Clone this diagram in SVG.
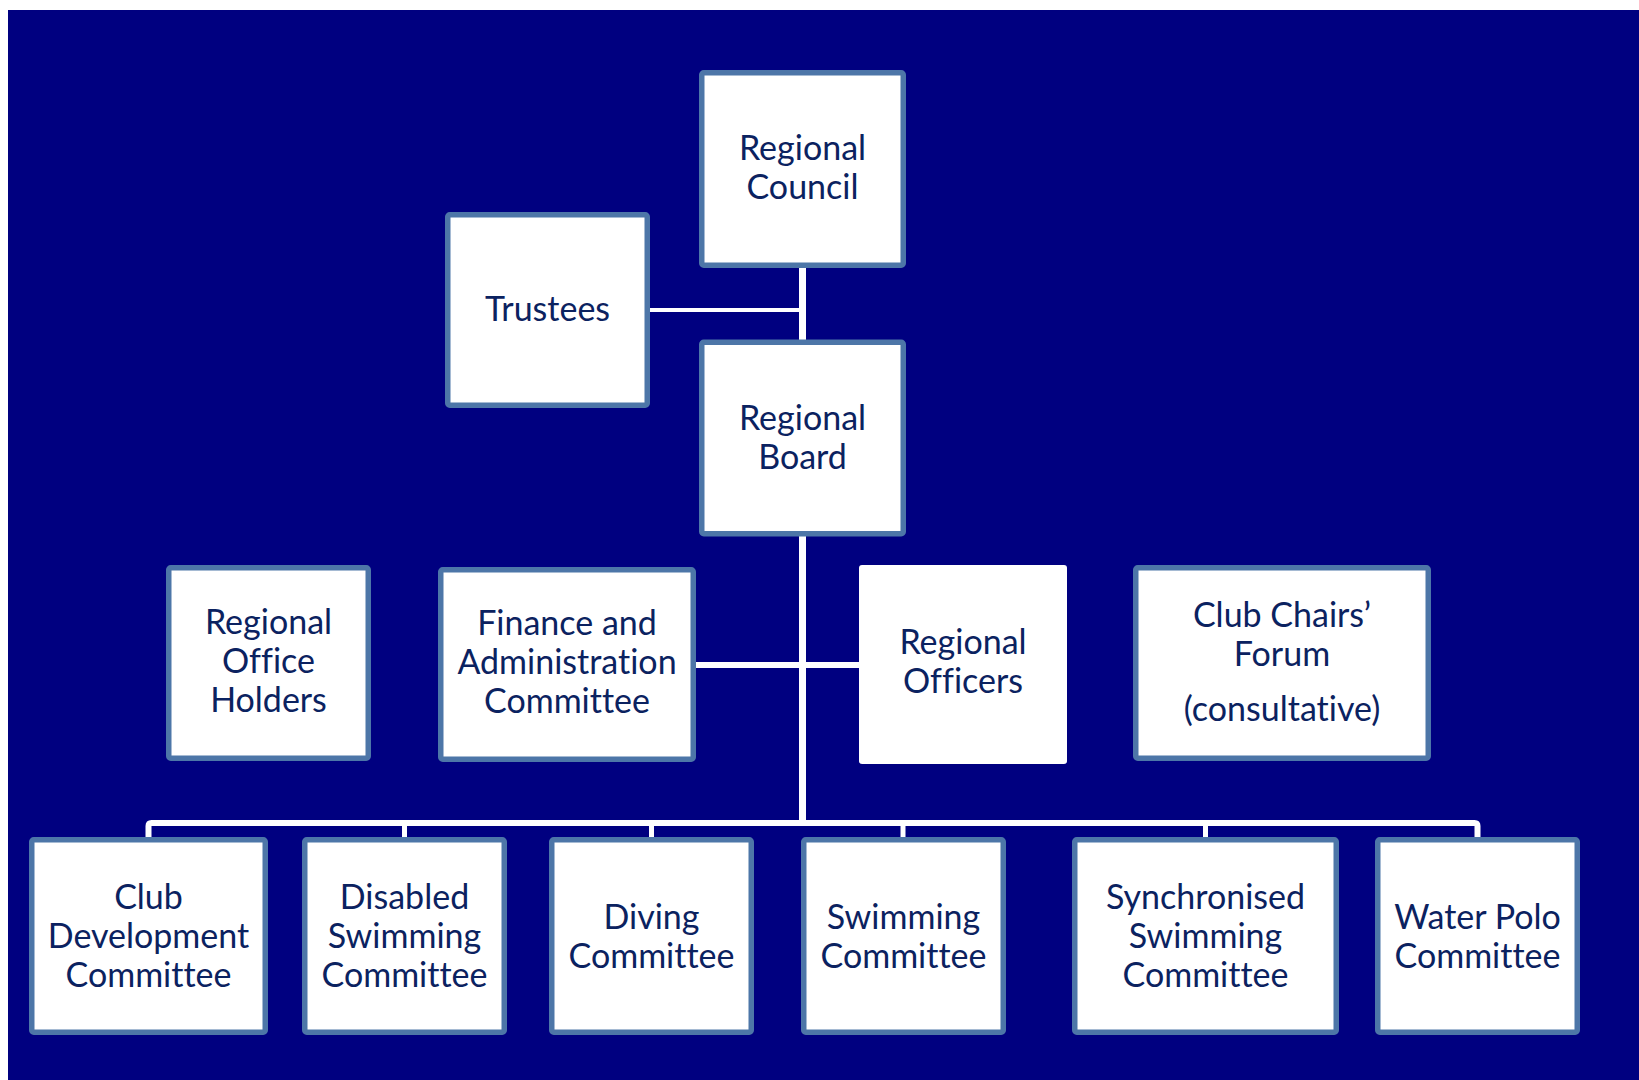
<svg xmlns="http://www.w3.org/2000/svg" width="1639" height="1080" viewBox="0 0 1639 1080">
<style>
.box{fill:#ffffff;stroke:#4d76a8;stroke-width:5.5}
.plain{fill:#ffffff;stroke:none}
.lbl{font-family:Lato,"Open Sans","Liberation Sans",sans-serif;font-size:34px;fill:#0b2260;text-anchor:middle;font-variant-ligatures:none;font-feature-settings:"liga" 0}
.ln{stroke:#ffffff;fill:none}
</style>
<rect x="0" y="0" width="1639" height="1080" fill="#ffffff"/>
<rect x="8" y="10" width="1631" height="1070" fill="#000080"/>
<g id="connectors">
<line class="ln" x1="802.5" y1="268" x2="802.5" y2="823" stroke-width="7"/>
<line class="ln" x1="650" y1="310" x2="802.5" y2="310" stroke-width="4"/>
<line class="ln" x1="696" y1="665" x2="859" y2="665" stroke-width="6"/>
<path class="ln" d="M148.5 838 V826 Q148.5 823 151.5 823 H1474.5 Q1477.5 823 1477.5 826 V838" stroke-width="6"/>
<line class="ln" x1="404.5" y1="823" x2="404.5" y2="838" stroke-width="5"/>
<line class="ln" x1="651.5" y1="823" x2="651.5" y2="838" stroke-width="5"/>
<line class="ln" x1="903" y1="823" x2="903" y2="838" stroke-width="5"/>
<line class="ln" x1="1205.5" y1="823" x2="1205.5" y2="838" stroke-width="5"/>
</g>
<g id="regional-council">
<rect class="box" x="701.75" y="72.75" width="201.5" height="192.5" rx="2"/>
<text class="lbl" x="802.5" y="160">Regional</text>
<text class="lbl" x="802.5" y="199">Council</text>
</g>
<g id="trustees">
<rect class="box" x="447.75" y="214.75" width="199.5" height="190.5" rx="2"/>
<text class="lbl" x="547.5" y="321">Trustees</text>
</g>
<g id="regional-board">
<rect class="box" x="701.75" y="342.25" width="201.5" height="191.5" rx="2"/>
<text class="lbl" x="802.5" y="430">Regional</text>
<text class="lbl" x="802.5" y="469">Board</text>
</g>
<g id="regional-office-holders">
<rect class="box" x="168.75" y="567.75" width="199.5" height="190.5" rx="2"/>
<text class="lbl" x="268.5" y="634">Regional</text>
<text class="lbl" x="268.5" y="673">Office</text>
<text class="lbl" x="268.5" y="712">Holders</text>
</g>
<g id="finance-admin">
<rect class="box" x="440.75" y="569.75" width="252.5" height="189.5" rx="2"/>
<text class="lbl" x="567" y="635">Finance and</text>
<text class="lbl" x="567" y="674">Administration</text>
<text class="lbl" x="567" y="713">Committee</text>
</g>
<g id="regional-officers">
<rect class="plain" x="859" y="565" width="208" height="199" rx="3"/>
<text class="lbl" x="963" y="654">Regional</text>
<text class="lbl" x="963" y="693">Officers</text>
</g>
<g id="club-chairs-forum">
<rect class="box" x="1135.75" y="567.75" width="292.5" height="190.5" rx="2"/>
<text class="lbl" x="1282" y="627">Club Chairs’</text>
<text class="lbl" x="1282" y="666">Forum</text>
<text class="lbl" x="1282" y="721">(consultative)</text>
</g>
<g id="club-development">
<rect class="box" x="31.75" y="839.75" width="233.5" height="192.5" rx="2"/>
<text class="lbl" x="148.5" y="909">Club</text>
<text class="lbl" x="148.5" y="948">Development</text>
<text class="lbl" x="148.5" y="987">Committee</text>
</g>
<g id="disabled-swimming">
<rect class="box" x="304.75" y="839.75" width="199.5" height="192.5" rx="2"/>
<text class="lbl" x="404.5" y="909">Disabled</text>
<text class="lbl" x="404.5" y="948">Swimming</text>
<text class="lbl" x="404.5" y="987">Committee</text>
</g>
<g id="diving">
<rect class="box" x="551.75" y="839.75" width="199.5" height="192.5" rx="2"/>
<text class="lbl" x="651.5" y="929">Diving</text>
<text class="lbl" x="651.5" y="968">Committee</text>
</g>
<g id="swimming">
<rect class="box" x="803.75" y="839.75" width="199.5" height="192.5" rx="2"/>
<text class="lbl" x="903.5" y="929">Swimming</text>
<text class="lbl" x="903.5" y="968">Committee</text>
</g>
<g id="synchronised-swimming">
<rect class="box" x="1074.75" y="839.75" width="261.5" height="192.5" rx="2"/>
<text class="lbl" x="1205.5" y="909">Synchronised</text>
<text class="lbl" x="1205.5" y="948">Swimming</text>
<text class="lbl" x="1205.5" y="987">Committee</text>
</g>
<g id="water-polo">
<rect class="box" x="1377.75" y="839.75" width="199.5" height="192.5" rx="2"/>
<text class="lbl" x="1477.5" y="929">Water Polo</text>
<text class="lbl" x="1477.5" y="968">Committee</text>
</g>
</svg>
